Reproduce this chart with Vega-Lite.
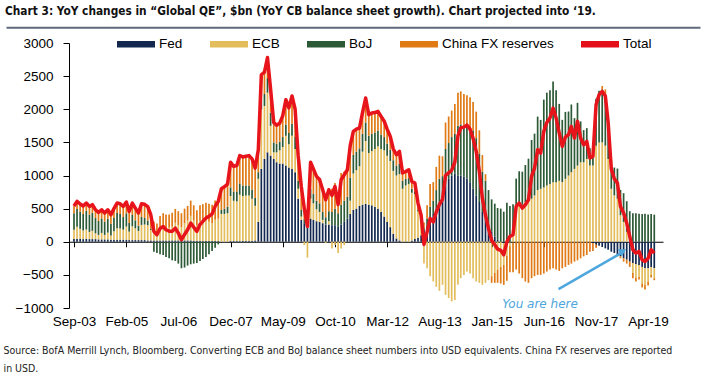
{
"$schema": "https://vega.github.io/schema/vega-lite/v6.json",
"width": 594, "height": 265,
"autosize": {"type": "none"},
"padding": {"left": 69, "top": 43, "right": 41, "bottom": 81},
"background": "white",
"title": {"text": "Chart 3: YoY changes in “Global QE”, $bn (YoY CB balance sheet growth). Chart projected into ‘19.", "anchor": "start", "frame": "group", "dx": -64, "offset": 7, "font": "DejaVu Sans Condensed, Roboto", "fontSize": 11.8, "fontWeight": "bold", "color": "#111111"},
"config": {"view": {"stroke": null}, "axis": {"grid": false},
 "axisY": {"values": [-1000, -500, 0, 500, 1000, 1500, 2000, 2500, 3000], "format": "d", "tickSize": 6, "labelPadding": 10, "labelOverlap": false, "labelFlush": false, "domainColor": "#000000", "tickColor": "#000000", "labelFont": "Liberation Sans", "labelFontSize": 13.5, "labelColor": "#000000", "tickCount": 9}},
"data": {"values": [
{"d":"2003-09-01","Fed":40,"ECB":140,"BoJ":250,"China FX reserves":110,"Total":540},
{"d":"2003-10-01","Fed":45,"ECB":180,"BoJ":270,"China FX reserves":115,"Total":610},
{"d":"2003-11-01","Fed":45,"ECB":150,"BoJ":260,"China FX reserves":115,"Total":570},
{"d":"2003-12-01","Fed":40,"ECB":130,"BoJ":250,"China FX reserves":120,"Total":540},
{"d":"2004-01-01","Fed":45,"ECB":140,"BoJ":280,"China FX reserves":120,"Total":585},
{"d":"2004-02-01","Fed":40,"ECB":108,"BoJ":260,"China FX reserves":125,"Total":533},
{"d":"2004-03-01","Fed":40,"ECB":125,"BoJ":270,"China FX reserves":125,"Total":560},
{"d":"2004-04-01","Fed":40,"ECB":88,"BoJ":230,"China FX reserves":125,"Total":483},
{"d":"2004-05-01","Fed":35,"ECB":68,"BoJ":210,"China FX reserves":130,"Total":443},
{"d":"2004-06-01","Fed":35,"ECB":98,"BoJ":220,"China FX reserves":130,"Total":483},
{"d":"2004-07-01","Fed":35,"ECB":68,"BoJ":200,"China FX reserves":130,"Total":433},
{"d":"2004-08-01","Fed":35,"ECB":103,"BoJ":210,"China FX reserves":135,"Total":483},
{"d":"2004-09-01","Fed":30,"ECB":63,"BoJ":180,"China FX reserves":135,"Total":408},
{"d":"2004-10-01","Fed":30,"ECB":130,"BoJ":200,"China FX reserves":140,"Total":500},
{"d":"2004-11-01","Fed":30,"ECB":174,"BoJ":230,"China FX reserves":150,"Total":584},
{"d":"2004-12-01","Fed":30,"ECB":169,"BoJ":220,"China FX reserves":155,"Total":574},
{"d":"2005-01-01","Fed":30,"ECB":153,"BoJ":190,"China FX reserves":160,"Total":533},
{"d":"2005-02-01","Fed":30,"ECB":200,"BoJ":200,"China FX reserves":170,"Total":600},
{"d":"2005-03-01","Fed":25,"ECB":128,"BoJ":130,"China FX reserves":175,"Total":458},
{"d":"2005-04-01","Fed":25,"ECB":209,"BoJ":170,"China FX reserves":180,"Total":584},
{"d":"2005-05-01","Fed":25,"ECB":178,"BoJ":120,"China FX reserves":185,"Total":508},
{"d":"2005-06-01","Fed":25,"ECB":138,"BoJ":80,"China FX reserves":190,"Total":433},
{"d":"2005-07-01","Fed":25,"ECB":229,"BoJ":120,"China FX reserves":200,"Total":574},
{"d":"2005-08-01","Fed":25,"ECB":235,"BoJ":100,"China FX reserves":205,"Total":565},
{"d":"2005-09-01","Fed":20,"ECB":230,"BoJ":70,"China FX reserves":210,"Total":530},
{"d":"2005-10-01","Fed":20,"ECB":158,"BoJ":20,"China FX reserves":210,"Total":408},
{"d":"2005-11-01","Fed":20,"ECB":107,"BoJ":-150,"China FX reserves":180,"Total":157},
{"d":"2005-12-01","Fed":20,"ECB":76,"BoJ":-170,"China FX reserves":180,"Total":106},
{"d":"2006-01-01","Fed":20,"ECB":180,"BoJ":-190,"China FX reserves":190,"Total":200},
{"d":"2006-02-01","Fed":20,"ECB":211,"BoJ":-200,"China FX reserves":200,"Total":231},
{"d":"2006-03-01","Fed":20,"ECB":191,"BoJ":-230,"China FX reserves":200,"Total":181},
{"d":"2006-04-01","Fed":20,"ECB":190,"BoJ":-250,"China FX reserves":200,"Total":160},
{"d":"2006-05-01","Fed":20,"ECB":207,"BoJ":-280,"China FX reserves":210,"Total":157},
{"d":"2006-06-01","Fed":20,"ECB":266,"BoJ":-290,"China FX reserves":210,"Total":206},
{"d":"2006-07-01","Fed":20,"ECB":231,"BoJ":-330,"China FX reserves":210,"Total":131},
{"d":"2006-08-01","Fed":20,"ECB":200,"BoJ":-400,"China FX reserves":210,"Total":30},
{"d":"2006-09-01","Fed":20,"ECB":260,"BoJ":-390,"China FX reserves":220,"Total":110},
{"d":"2006-10-01","Fed":20,"ECB":301,"BoJ":-360,"China FX reserves":220,"Total":181},
{"d":"2006-11-01","Fed":20,"ECB":371,"BoJ":-340,"China FX reserves":230,"Total":281},
{"d":"2006-12-01","Fed":15,"ECB":305,"BoJ":-330,"China FX reserves":230,"Total":220},
{"d":"2007-01-01","Fed":15,"ECB":232,"BoJ":-320,"China FX reserves":230,"Total":157},
{"d":"2007-02-01","Fed":15,"ECB":295,"BoJ":-290,"China FX reserves":240,"Total":260},
{"d":"2007-03-01","Fed":10,"ECB":307,"BoJ":-260,"China FX reserves":250,"Total":307},
{"d":"2007-04-01","Fed":10,"ECB":317,"BoJ":-230,"China FX reserves":260,"Total":357},
{"d":"2007-05-01","Fed":10,"ECB":293,"BoJ":-190,"China FX reserves":270,"Total":383},
{"d":"2007-06-01","Fed":10,"ECB":270,"BoJ":-140,"China FX reserves":280,"Total":420},
{"d":"2007-07-01","Fed":10,"ECB":323,"BoJ":-90,"China FX reserves":290,"Total":533},
{"d":"2007-08-01","Fed":10,"ECB":339,"BoJ":-40,"China FX reserves":300,"Total":609},
{"d":"2007-09-01","Fed":0,"ECB":420,"BoJ":60,"China FX reserves":320,"Total":800},
{"d":"2007-10-01","Fed":0,"ECB":420,"BoJ":80,"China FX reserves":330,"Total":830},
{"d":"2007-11-01","Fed":0,"ECB":430,"BoJ":100,"China FX reserves":340,"Total":870},
{"d":"2007-12-01","Fed":10,"ECB":680,"BoJ":130,"China FX reserves":380,"Total":1200},
{"d":"2008-01-01","Fed":10,"ECB":608,"BoJ":140,"China FX reserves":380,"Total":1138},
{"d":"2008-02-01","Fed":10,"ECB":600,"BoJ":150,"China FX reserves":390,"Total":1150},
{"d":"2008-03-01","Fed":10,"ECB":700,"BoJ":170,"China FX reserves":420,"Total":1300},
{"d":"2008-04-01","Fed":10,"ECB":680,"BoJ":160,"China FX reserves":430,"Total":1280},
{"d":"2008-05-01","Fed":10,"ECB":690,"BoJ":150,"China FX reserves":440,"Total":1290},
{"d":"2008-06-01","Fed":10,"ECB":690,"BoJ":150,"China FX reserves":450,"Total":1300},
{"d":"2008-07-01","Fed":10,"ECB":640,"BoJ":140,"China FX reserves":460,"Total":1250},
{"d":"2008-08-01","Fed":20,"ECB":522,"BoJ":120,"China FX reserves":450,"Total":1112},
{"d":"2008-09-01","Fed":300,"ECB":650,"BoJ":100,"China FX reserves":339,"Total":1389},
{"d":"2008-10-01","Fed":1100,"ECB":900,"BoJ":150,"China FX reserves":371,"Total":2521},
{"d":"2008-11-01","Fed":1250,"ECB":800,"BoJ":180,"China FX reserves":330,"Total":2560},
{"d":"2008-12-01","Fed":1350,"ECB":900,"BoJ":220,"China FX reserves":310,"Total":2780},
{"d":"2009-01-01","Fed":1300,"ECB":450,"BoJ":200,"China FX reserves":350,"Total":2300},
{"d":"2009-02-01","Fed":1250,"ECB":100,"BoJ":150,"China FX reserves":300,"Total":1800},
{"d":"2009-03-01","Fed":1200,"ECB":150,"BoJ":130,"China FX reserves":280,"Total":1760},
{"d":"2009-04-01","Fed":1180,"ECB":200,"BoJ":130,"China FX reserves":280,"Total":1790},
{"d":"2009-05-01","Fed":1180,"ECB":250,"BoJ":150,"China FX reserves":320,"Total":1900},
{"d":"2009-06-01","Fed":1150,"ECB":450,"BoJ":170,"China FX reserves":374,"Total":2144},
{"d":"2009-07-01","Fed":1120,"ECB":350,"BoJ":170,"China FX reserves":380,"Total":2020},
{"d":"2009-08-01","Fed":1100,"ECB":500,"BoJ":180,"China FX reserves":420,"Total":2200},
{"d":"2009-09-01","Fed":1050,"ECB":350,"BoJ":180,"China FX reserves":420,"Total":2000},
{"d":"2009-10-01","Fed":650,"ECB":150,"BoJ":120,"China FX reserves":380,"Total":1300},
{"d":"2009-11-01","Fed":330,"ECB":50,"BoJ":100,"China FX reserves":355,"Total":835},
{"d":"2009-12-01","Fed":280,"ECB":-50,"BoJ":60,"China FX reserves":210,"Total":500},
{"d":"2010-01-01","Fed":250,"ECB":-240,"BoJ":40,"China FX reserves":181,"Total":231},
{"d":"2010-02-01","Fed":350,"ECB":300,"BoJ":150,"China FX reserves":400,"Total":1200},
{"d":"2010-03-01","Fed":330,"ECB":250,"BoJ":140,"China FX reserves":380,"Total":1100},
{"d":"2010-04-01","Fed":310,"ECB":180,"BoJ":130,"China FX reserves":367,"Total":987},
{"d":"2010-05-01","Fed":300,"ECB":150,"BoJ":130,"China FX reserves":360,"Total":940},
{"d":"2010-06-01","Fed":280,"ECB":50,"BoJ":120,"China FX reserves":335,"Total":785},
{"d":"2010-07-01","Fed":260,"ECB":-20,"BoJ":110,"China FX reserves":284,"Total":634},
{"d":"2010-08-01","Fed":260,"ECB":50,"BoJ":150,"China FX reserves":325,"Total":785},
{"d":"2010-09-01","Fed":250,"ECB":-100,"BoJ":200,"China FX reserves":350,"Total":700},
{"d":"2010-10-01","Fed":250,"ECB":-50,"BoJ":250,"China FX reserves":385,"Total":835},
{"d":"2010-11-01","Fed":230,"ECB":-170,"BoJ":200,"China FX reserves":300,"Total":560},
{"d":"2010-12-01","Fed":260,"ECB":-100,"BoJ":300,"China FX reserves":476,"Total":936},
{"d":"2011-01-01","Fed":300,"ECB":-50,"BoJ":320,"China FX reserves":441,"Total":1011},
{"d":"2011-02-01","Fed":350,"ECB":0,"BoJ":330,"China FX reserves":407,"Total":1087},
{"d":"2011-03-01","Fed":420,"ECB":200,"BoJ":350,"China FX reserves":480,"Total":1450},
{"d":"2011-04-01","Fed":480,"ECB":550,"BoJ":280,"China FX reserves":356,"Total":1666},
{"d":"2011-05-01","Fed":500,"ECB":580,"BoJ":280,"China FX reserves":340,"Total":1700},
{"d":"2011-06-01","Fed":540,"ECB":600,"BoJ":270,"China FX reserves":307,"Total":1717},
{"d":"2011-07-01","Fed":560,"ECB":800,"BoJ":270,"China FX reserves":320,"Total":1950},
{"d":"2011-08-01","Fed":570,"ECB":950,"BoJ":280,"China FX reserves":369,"Total":2169},
{"d":"2011-09-01","Fed":560,"ECB":780,"BoJ":260,"China FX reserves":318,"Total":1918},
{"d":"2011-10-01","Fed":550,"ECB":820,"BoJ":260,"China FX reserves":313,"Total":1943},
{"d":"2011-11-01","Fed":530,"ECB":870,"BoJ":250,"China FX reserves":300,"Total":1950},
{"d":"2011-12-01","Fed":500,"ECB":940,"BoJ":240,"China FX reserves":288,"Total":1968},
{"d":"2012-01-01","Fed":450,"ECB":950,"BoJ":220,"China FX reserves":273,"Total":1893},
{"d":"2012-02-01","Fed":380,"ECB":1000,"BoJ":200,"China FX reserves":240,"Total":1820},
{"d":"2012-03-01","Fed":300,"ECB":1000,"BoJ":180,"China FX reserves":220,"Total":1700},
{"d":"2012-04-01","Fed":220,"ECB":1000,"BoJ":170,"China FX reserves":201,"Total":1591},
{"d":"2012-05-01","Fed":120,"ECB":950,"BoJ":160,"China FX reserves":170,"Total":1400},
{"d":"2012-06-01","Fed":50,"ECB":950,"BoJ":150,"China FX reserves":164,"Total":1314},
{"d":"2012-07-01","Fed":20,"ECB":1000,"BoJ":160,"China FX reserves":184,"Total":1364},
{"d":"2012-08-01","Fed":0,"ECB":800,"BoJ":120,"China FX reserves":117,"Total":1037},
{"d":"2012-09-01","Fed":-10,"ECB":850,"BoJ":100,"China FX reserves":120,"Total":1060},
{"d":"2012-10-01","Fed":0,"ECB":870,"BoJ":90,"China FX reserves":127,"Total":1087},
{"d":"2012-11-01","Fed":20,"ECB":720,"BoJ":60,"China FX reserves":110,"Total":910},
{"d":"2012-12-01","Fed":40,"ECB":680,"BoJ":40,"China FX reserves":125,"Total":885},
{"d":"2013-01-01","Fed":60,"ECB":400,"BoJ":20,"China FX reserves":104,"Total":584},
{"d":"2013-02-01","Fed":100,"ECB":190,"BoJ":20,"China FX reserves":90,"Total":400},
{"d":"2013-03-01","Fed":180,"ECB":-330,"BoJ":30,"China FX reserves":80,"Total":-40},
{"d":"2013-04-01","Fed":250,"ECB":-400,"BoJ":100,"China FX reserves":200,"Total":150},
{"d":"2013-05-01","Fed":330,"ECB":-520,"BoJ":200,"China FX reserves":340,"Total":350},
{"d":"2013-06-01","Fed":420,"ECB":-600,"BoJ":200,"China FX reserves":280,"Total":300},
{"d":"2013-07-01","Fed":500,"ECB":-680,"BoJ":280,"China FX reserves":350,"Total":450},
{"d":"2013-08-01","Fed":600,"ECB":-740,"BoJ":350,"China FX reserves":350,"Total":560},
{"d":"2013-09-01","Fed":700,"ECB":-650,"BoJ":290,"China FX reserves":300,"Total":640},
{"d":"2013-10-01","Fed":850,"ECB":-800,"BoJ":550,"China FX reserves":400,"Total":1000},
{"d":"2013-11-01","Fed":950,"ECB":-850,"BoJ":540,"China FX reserves":400,"Total":1040},
{"d":"2013-12-01","Fed":1000,"ECB":-900,"BoJ":580,"China FX reserves":400,"Total":1080},
{"d":"2014-01-01","Fed":1030,"ECB":-880,"BoJ":600,"China FX reserves":450,"Total":1200},
{"d":"2014-02-01","Fed":1000,"ECB":-650,"BoJ":750,"China FX reserves":500,"Total":1600},
{"d":"2014-03-01","Fed":1000,"ECB":-550,"BoJ":770,"China FX reserves":500,"Total":1720},
{"d":"2014-04-01","Fed":980,"ECB":-500,"BoJ":770,"China FX reserves":480,"Total":1730},
{"d":"2014-05-01","Fed":950,"ECB":-450,"BoJ":790,"China FX reserves":470,"Total":1760},
{"d":"2014-06-01","Fed":900,"ECB":-480,"BoJ":830,"China FX reserves":450,"Total":1700},
{"d":"2014-07-01","Fed":800,"ECB":-550,"BoJ":880,"China FX reserves":430,"Total":1560},
{"d":"2014-08-01","Fed":700,"ECB":-600,"BoJ":864,"China FX reserves":400,"Total":1364},
{"d":"2014-09-01","Fed":600,"ECB":-620,"BoJ":732,"China FX reserves":350,"Total":1062},
{"d":"2014-10-01","Fed":450,"ECB":-650,"BoJ":609,"China FX reserves":250,"Total":659},
{"d":"2014-11-01","Fed":350,"ECB":-620,"BoJ":570,"China FX reserves":100,"Total":400},
{"d":"2014-12-01","Fed":250,"ECB":-580,"BoJ":530,"China FX reserves":0,"Total":200},
{"d":"2015-01-01","Fed":150,"ECB":-520,"BoJ":490,"China FX reserves":-100,"Total":20},
{"d":"2015-02-01","Fed":80,"ECB":-470,"BoJ":495,"China FX reserves":-150,"Total":-45},
{"d":"2015-03-01","Fed":30,"ECB":-420,"BoJ":480,"China FX reserves":-200,"Total":-110},
{"d":"2015-04-01","Fed":0,"ECB":-380,"BoJ":500,"China FX reserves":-250,"Total":-130},
{"d":"2015-05-01","Fed":-20,"ECB":-330,"BoJ":454,"China FX reserves":-300,"Total":-196},
{"d":"2015-06-01","Fed":-10,"ECB":-200,"BoJ":590,"China FX reserves":-380,"Total":0},
{"d":"2015-07-01","Fed":-10,"ECB":-50,"BoJ":540,"China FX reserves":-400,"Total":80},
{"d":"2015-08-01","Fed":-10,"ECB":150,"BoJ":416,"China FX reserves":-450,"Total":106},
{"d":"2015-09-01","Fed":0,"ECB":550,"BoJ":403,"China FX reserves":-420,"Total":533},
{"d":"2015-10-01","Fed":0,"ECB":560,"BoJ":504,"China FX reserves":-480,"Total":584},
{"d":"2015-11-01","Fed":0,"ECB":560,"BoJ":498,"China FX reserves":-550,"Total":508},
{"d":"2015-12-01","Fed":0,"ECB":600,"BoJ":558,"China FX reserves":-600,"Total":558},
{"d":"2016-01-01","Fed":0,"ECB":620,"BoJ":634,"China FX reserves":-620,"Total":634},
{"d":"2016-02-01","Fed":0,"ECB":650,"BoJ":886,"China FX reserves":-550,"Total":986},
{"d":"2016-03-01","Fed":0,"ECB":700,"BoJ":932,"China FX reserves":-520,"Total":1112},
{"d":"2016-04-01","Fed":0,"ECB":780,"BoJ":1109,"China FX reserves":-500,"Total":1389},
{"d":"2016-05-01","Fed":0,"ECB":800,"BoJ":1039,"China FX reserves":-500,"Total":1339},
{"d":"2016-06-01","Fed":0,"ECB":820,"BoJ":1326,"China FX reserves":-480,"Total":1666},
{"d":"2016-07-01","Fed":0,"ECB":850,"BoJ":1400,"China FX reserves":-450,"Total":1800},
{"d":"2016-08-01","Fed":0,"ECB":870,"BoJ":1418,"China FX reserves":-420,"Total":1868},
{"d":"2016-09-01","Fed":0,"ECB":900,"BoJ":1518,"China FX reserves":-400,"Total":2018},
{"d":"2016-10-01","Fed":0,"ECB":900,"BoJ":1388,"China FX reserves":-420,"Total":1868},
{"d":"2016-11-01","Fed":0,"ECB":920,"BoJ":1161,"China FX reserves":-440,"Total":1641},
{"d":"2016-12-01","Fed":0,"ECB":900,"BoJ":940,"China FX reserves":-400,"Total":1440},
{"d":"2017-01-01","Fed":0,"ECB":950,"BoJ":1010,"China FX reserves":-380,"Total":1580},
{"d":"2017-02-01","Fed":0,"ECB":1000,"BoJ":966,"China FX reserves":-350,"Total":1616},
{"d":"2017-03-01","Fed":0,"ECB":1050,"BoJ":1022,"China FX reserves":-330,"Total":1742},
{"d":"2017-04-01","Fed":0,"ECB":1100,"BoJ":766,"China FX reserves":-300,"Total":1566},
{"d":"2017-05-01","Fed":0,"ECB":1150,"BoJ":947,"China FX reserves":-280,"Total":1817},
{"d":"2017-06-01","Fed":0,"ECB":1200,"BoJ":616,"China FX reserves":-250,"Total":1566},
{"d":"2017-07-01","Fed":0,"ECB":1200,"BoJ":485,"China FX reserves":-220,"Total":1465},
{"d":"2017-08-01","Fed":0,"ECB":1250,"BoJ":465,"China FX reserves":-200,"Total":1515},
{"d":"2017-09-01","Fed":0,"ECB":1150,"BoJ":263,"China FX reserves":-150,"Total":1263},
{"d":"2017-10-01","Fed":-20,"ECB":1150,"BoJ":279,"China FX reserves":-120,"Total":1289},
{"d":"2017-11-01","Fed":-40,"ECB":1450,"BoJ":708,"China FX reserves":-50,"Total":2068},
{"d":"2017-12-01","Fed":-60,"ECB":1500,"BoJ":779,"China FX reserves":0,"Total":2219},
{"d":"2018-01-01","Fed":-80,"ECB":1500,"BoJ":800,"China FX reserves":50,"Total":2270},
{"d":"2018-02-01","Fed":-100,"ECB":1450,"BoJ":770,"China FX reserves":80,"Total":2200},
{"d":"2018-03-01","Fed":-120,"ECB":1250,"BoJ":610,"China FX reserves":60,"Total":1800},
{"d":"2018-04-01","Fed":-150,"ECB":800,"BoJ":420,"China FX reserves":30,"Total":1100},
{"d":"2018-05-01","Fed":-170,"ECB":700,"BoJ":420,"China FX reserves":0,"Total":950},
{"d":"2018-06-01","Fed":-200,"ECB":650,"BoJ":455,"China FX reserves":-20,"Total":885},
{"d":"2018-07-01","Fed":-220,"ECB":400,"BoJ":383,"China FX reserves":-30,"Total":533},
{"d":"2018-08-01","Fed":-250,"ECB":300,"BoJ":433,"China FX reserves":-50,"Total":433},
{"d":"2018-09-01","Fed":-270,"ECB":150,"BoJ":462,"China FX reserves":-60,"Total":282},
{"d":"2018-10-01","Fed":-300,"ECB":20,"BoJ":441,"China FX reserves":-80,"Total":81},
{"d":"2018-11-01","Fed":-320,"ECB":-150,"BoJ":429,"China FX reserves":-80,"Total":-121},
{"d":"2018-12-01","Fed":-340,"ECB":-200,"BoJ":429,"China FX reserves":-60,"Total":-171},
{"d":"2019-01-01","Fed":-350,"ECB":-180,"BoJ":424,"China FX reserves":-40,"Total":-146},
{"d":"2019-02-01","Fed":-380,"ECB":-250,"BoJ":418,"China FX reserves":-60,"Total":-272},
{"d":"2019-03-01","Fed":-400,"ECB":-250,"BoJ":423,"China FX reserves":-70,"Total":-297},
{"d":"2019-04-01","Fed":-400,"ECB":-200,"BoJ":410,"China FX reserves":-60,"Total":-250},
{"d":"2019-05-01","Fed":-380,"ECB":-120,"BoJ":419,"China FX reserves":-40,"Total":-121},
{"d":"2019-06-01","Fed":-400,"ECB":-150,"BoJ":409,"China FX reserves":-30,"Total":-171}
]},
"layer": [
{"transform": [{"fold": ["Fed", "ECB", "BoJ", "China FX reserves"], "as": ["series", "value"]}, {"calculate": "indexof(['Fed','ECB','BoJ','China FX reserves'], datum.series)", "as": "ord"}],
 "mark": {"type": "bar", "size": 1.7},
 "encoding": {
  "x": {"field": "d", "type": "temporal",
   "scale": {"type": "utc", "domain": [{"year": 2003, "month": 9, "date": 1, "utc": true}, {"year": 2019, "month": 7, "date": 8, "utc": true}]},
   "axis": {"values": [{"year": 2003, "month": 9, "date": 1, "utc": true}, {"year": 2005, "month": 2, "date": 1, "utc": true}, {"year": 2006, "month": 7, "date": 1, "utc": true}, {"year": 2007, "month": 12, "date": 1, "utc": true}, {"year": 2009, "month": 5, "date": 1, "utc": true}, {"year": 2010, "month": 10, "date": 1, "utc": true}, {"year": 2012, "month": 3, "date": 1, "utc": true}, {"year": 2013, "month": 8, "date": 1, "utc": true}, {"year": 2015, "month": 1, "date": 1, "utc": true}, {"year": 2016, "month": 6, "date": 1, "utc": true}, {"year": 2017, "month": 11, "date": 1, "utc": true}, {"year": 2019, "month": 4, "date": 1, "utc": true}],
    "format": "%b-%y", "offset": -66.25, "tickSize": 5, "labelPadding": 68, "domainColor": "#000000", "tickColor": "#000000", "domainWidth": 1.2,
    "labelFont": "Liberation Sans", "labelFontSize": 13.5, "labelColor": "#000000", "labelOverlap": false, "labelFlush": false,
    "title": ["Source: BofA Merrill Lynch, Bloomberg. Converting ECB and BoJ balance sheet numbers into USD equivalents. China FX reserves are reported", "in USD."],
    "titleX": -66, "titleY": 104, "titleAlign": "left", "titleAnchor": "start", "titleBaseline": "top", "titleAngle": 0,
    "titleFont": "DejaVu Sans Condensed, Roboto", "titleFontSize": 10.5, "titleFontWeight": "normal", "titleColor": "#222222", "titleLineHeight": 18}},
  "y": {"field": "value", "type": "quantitative", "stack": "zero",
   "scale": {"domain": [-1000, 3000], "nice": false},
   "axis": {"values": [-1000, -500, 0, 500, 1000, 1500, 2000, 2500, 3000], "format": "d", "title": null, "tickSize": 6, "labelPadding": 10, "labelOverlap": false, "labelFlush": false, "domainColor": "#000000", "tickColor": "#000000", "labelFont": "Liberation Sans", "labelFontSize": 13.5, "labelColor": "#000000"}},
  "color": {"field": "series", "type": "nominal",
   "scale": {"domain": ["Fed", "ECB", "BoJ", "China FX reserves", "Total"], "range": ["#13284F", "#E3BD5C", "#2D5A36", "#E07A14", "#E3101A"]},
   "legend": {"orient": "none", "legendX": 48, "legendY": -18, "direction": "horizontal", "title": null, "symbolType": "M-1,-0.17L1,-0.17L1,0.17L-1,0.17Z", "symbolSize": 1444, "symbolStrokeWidth": 0, "symbolOpacity": 1, "labelFont": "Liberation Sans", "labelFontSize": 13.5, "labelColor": "#000000", "labelOffset": 4, "columnPadding": 27, "padding": 0}},
  "order": {"field": "ord", "type": "quantitative"}
 }},
{"mark": {"type": "line", "color": "#E8141B", "strokeWidth": 3.5, "strokeJoin": "round"},
 "encoding": {"x": {"field": "d", "type": "temporal", "scale": {"type": "utc"}}, "y": {"field": "Total", "type": "quantitative", "title": null, "axis": {"values": [-1000, -500, 0, 500, 1000, 1500, 2000, 2500, 3000], "format": "d", "labelOverlap": false}}}},
{"data": {"values": [{"d1": "2016-10-25", "v1": -714, "d2": "2018-07-15", "v2": -165}]},
 "mark": {"type": "rule", "color": "#4DA6DD", "strokeWidth": 2.5},
 "encoding": {"x": {"field": "d1", "type": "temporal", "scale": {"type": "utc"}}, "x2": {"field": "d2"}, "y": {"field": "v1", "type": "quantitative", "title": null, "axis": {"values": [-1000, -500, 0, 500, 1000, 1500, 2000, 2500, 3000], "format": "d", "labelOverlap": false}}, "y2": {"field": "v2"}}},
{"data": {"values": [{"d": "2018-07-25", "v": -140}]},
 "mark": {"type": "point", "shape": "triangle-up", "angle": 59.5, "size": 70, "filled": true, "color": "#4DA6DD", "opacity": 1},
 "encoding": {"x": {"field": "d", "type": "temporal", "scale": {"type": "utc"}}, "y": {"field": "v", "type": "quantitative", "title": null, "axis": {"values": [-1000, -500, 0, 500, 1000, 1500, 2000, 2500, 3000], "format": "d", "labelOverlap": false}}}},
{"data": {"values": [{"d": "2016-04-25", "v": -936, "t": "You are here"}]},
 "mark": {"type": "text", "font": "DejaVu Sans", "fontStyle": "italic", "fontSize": 12, "color": "#4DA6DD", "align": "center", "baseline": "middle"},
 "encoding": {"x": {"field": "d", "type": "temporal", "scale": {"type": "utc"}}, "y": {"field": "v", "type": "quantitative", "title": null, "axis": {"values": [-1000, -500, 0, 500, 1000, 1500, 2000, 2500, 3000], "format": "d", "labelOverlap": false}}, "text": {"field": "t"}}},
{"data": {"values": [{"a": "2001-11-01", "b": "2020-09-01", "v": 3230}]},
 "mark": {"type": "rule", "color": "#5E6B7D", "strokeWidth": 2},
 "encoding": {"x": {"field": "a", "type": "temporal", "scale": {"type": "utc"}}, "x2": {"field": "b"}, "y": {"field": "v", "type": "quantitative", "title": null, "axis": {"values": [-1000, -500, 0, 500, 1000, 1500, 2000, 2500, 3000], "format": "d", "labelOverlap": false}}}}
]
}
